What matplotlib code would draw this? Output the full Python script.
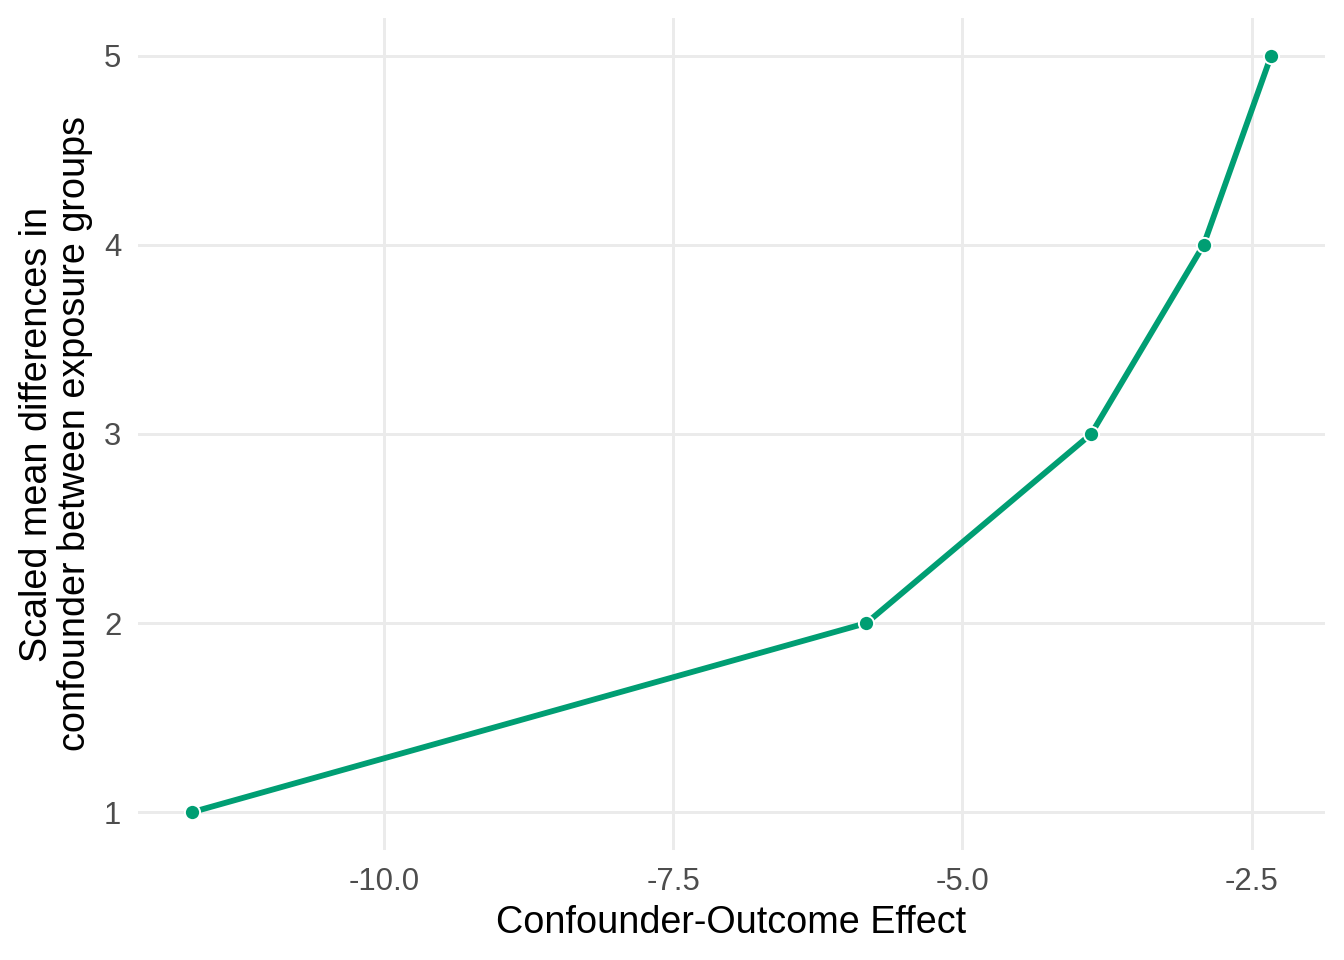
import matplotlib
matplotlib.use("Agg")
import matplotlib.pyplot as plt

scaled_diff = [1, 2, 3, 4, 5]
effect = [-11.66, -5.83, -3.887, -2.915, -2.332]
x_ticks = [-10.0, -7.5, -5.0, -2.5]
x_tick_labels = ["-10.0", "-7.5", "-5.0", "-2.5"]
y_ticks = [1, 2, 3, 4, 5]

plt.rcParams['font.family'] = ['Liberation Sans', 'DejaVu Sans']

fig = plt.figure(figsize=(6.72, 4.8), dpi=200)
ax = fig.add_axes([138/1344, 1 - 850/960, (1325-138)/1344, (850-18)/960])

ax.plot(effect, scaled_diff, color='#009E73', lw=2.1, zorder=3, solid_capstyle='butt')
ax.scatter(effect, scaled_diff, s=30, color='#009E73', edgecolor='white', linewidths=0.7, zorder=4)

span = max(effect) - min(effect)
ax.set_xlim(min(effect) - 0.05*span, max(effect) + 0.05*span)
ax.set_ylim(0.8, 5.2)
ax.set_xticks(x_ticks)
ax.set_xticklabels(x_tick_labels)
ax.set_yticks(y_ticks)

for s in ax.spines.values():
    s.set_visible(False)
ax.grid(True, color='#EBEBEB', lw=1.07)
ax.set_axisbelow(True)
ax.tick_params(axis='both', length=0, labelsize=11.2, labelcolor='#4D4D4D')
ax.tick_params(axis='x', pad=6.0)
ax.tick_params(axis='y', pad=6.0)

ax.set_xlabel("Confounder-Outcome Effect", fontsize=13.6, color='black', labelpad=3)
ax.set_ylabel("Scaled mean differences in\nconfounder between exposure groups", fontsize=13.6,
              color='black', labelpad=4, linespacing=1.05)

fig.savefig("out.png", dpi=200)
